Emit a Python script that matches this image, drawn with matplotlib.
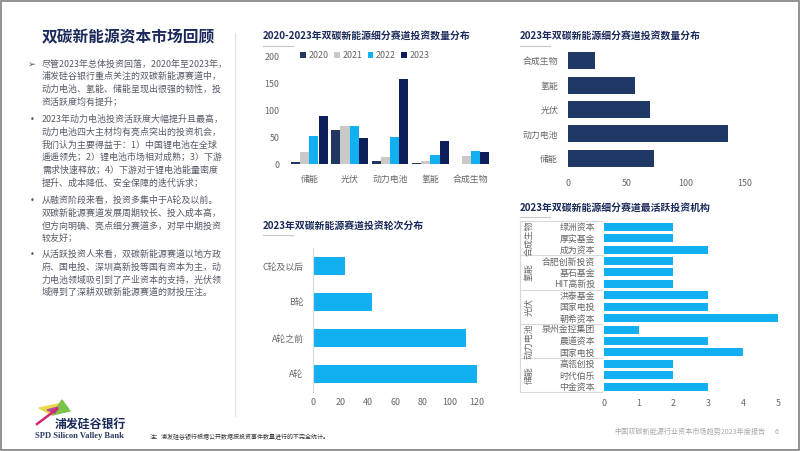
import matplotlib
matplotlib.use("Agg")
import matplotlib.pyplot as plt
import numpy as np
from matplotlib.lines import Line2D
from matplotlib.patches import Polygon, Rectangle
import matplotlib.transforms as mtransforms

plt.rcParams['font.family'] = ['Noto Sans CJK SC', 'DejaVu Sans']

# ---------------- data ----------------
sectors = ['储能', '光伏', '动力电池', '氢能', '合成生物']
years = ['2020', '2021', '2022', '2023']
counts_2020 = [4, 64, 6, 2, 0]
counts_2021 = [22, 71, 14, 7, 15]
counts_2022 = [53, 71, 51, 17, 25]
counts_2023 = [90, 48, 158, 43, 22]

sectors_2023 = ['储能', '动力电池', '光伏', '氢能', '合成生物']
values_2023 = [73, 136, 70, 57, 23]

rounds = ['A轮', 'A轮之前', 'B轮', 'C轮及以后']
round_counts = [120, 112, 43, 23]

inst_groups = ['合成生物', '氢能', '光伏', '动力电池', '储能']
group_sizes = [3, 3, 3, 3, 3]
inst_names = ['绿洲资本', '厚实基金', '成为资本', '合肥创新投资', '基石基金', 'HIT高新投',
              '洪泰基金', '国家电投', '朝希资本', '泉州金控集团', '晨道资本', '国家电投',
              '高瓴创投', '时代伯乐', '中金资本']
inst_counts = [2, 2, 3, 2, 2, 2, 3, 3, 5, 1, 3, 4, 2, 2, 3]

# ---------------- styling ----------------
W, H = 802, 451
NAVY = '#1b2a5a'
C2020 = '#22375f'
C2021 = '#c9c9c9'
C2022 = '#12b0f0'
C2023 = '#0d1f5a'
BAR_NAVY = '#1f3866'
CYAN = '#12b0f0'
TICK = '#666666'
BODY = '#555a66'

fig = plt.figure(figsize=(W / 100, H / 100), dpi=100)
fig.patch.set_facecolor('white')


def fx(x):
    return x / W


def fy(y):
    return 1 - y / H


def add_ax(x0, y0, x1, y1):
    return fig.add_axes([fx(x0), fy(y1), (x1 - x0) / W, (y1 - y0) / H])


def fig_line(x0, y0, x1, y1, color, lw):
    fig.add_artist(Line2D([fx(x0), fx(x1)], [fy(y0), fy(y1)], color=color, lw=lw,
                          transform=fig.transFigure))


def chart_title(x, y, s):
    fig.text(fx(x), fy(y), s, fontsize=7.1, fontweight='bold', color=NAVY,
             ha='left', va='center')
    fig_line(x, y + 9.5, x + 30, y + 9.5, '#c8c8c8', 0.8)


def clean(ax):
    for sp in ax.spines.values():
        sp.set_visible(False)
    ax.tick_params(length=0, labelsize=6.4, labelcolor=TICK)
    ax.set_facecolor('none')


# frame
fig.add_artist(Rectangle((fx(1), fy(449.5)), (798.5 - 1) / W, (449.5 - 1) / H,
                         fill=False, edgecolor='#8a8a8a', lw=1.3, transform=fig.transFigure))
# left panel separator
fig_line(235, 33, 235, 416, '#e3e3e3', 0.9)

# ---------------- left text ----------------
fig.text(fx(42), fy(37.5), '双碳新能源资本市场回顾', fontsize=11.3, fontweight='bold',
         color=NAVY, ha='left', va='center')

bullets = [
    ('➢', 64, ['尽管2023年总体投资回落，2020年至2023年，',
              '浦发硅谷银行重点关注的双碳新能源赛道中，',
              '动力电池、氢能、储能呈现出很强的韧性，投',
              '资活跃度均有提升；']),
    ('•', 119.5, ['2023年动力电池投资活跃度大幅提升且最高，',
                  '动力电池四大主材均有亮点突出的投资机会，',
                  '我们认为主要得益于：1）中国锂电池在全球',
                  '遥遥领先；2）锂电池市场相对成熟；3）下游',
                  '需求快速释放；4）下游对于锂电池能量密度',
                  '提升、成本降低、安全保障的迭代诉求；']),
    ('•', 200.5, ['从融资阶段来看，投资多集中于A轮及以前。',
                  '双碳新能源赛道发展周期较长、投入成本高，',
                  '但方向明确、亮点细分赛道多，对早中期投资',
                  '较友好；']),
    ('•', 254.5, ['从活跃投资人来看，双碳新能源赛道以地方政',
                  '府、国电投、深圳高新投等国有资本为主，动',
                  '力电池领域吸引到了产业资本的支持，光伏领',
                  '域得到了深耕双碳新能源赛道的财投压注。']),
]
for mark, y0, lines in bullets:
    fig.text(fx(32), fy(y0), mark, fontsize=6.8 if mark == '➢' else 6.0, color=BODY,
             ha='center', va='center', family=['DejaVu Sans'])
    for i, ln in enumerate(lines):
        fig.text(fx(42), fy(y0 + i * 12.7), ln, fontsize=6.45, color=BODY,
                 ha='left', va='center')

# logo (decorative)
fig.add_artist(Polygon([[fx(39), fy(408)], [fx(63), fy(403)], [fx(52), fy(415)]],
                       closed=True, color='#e9d84a', transform=fig.transFigure))
fig.add_artist(Polygon([[fx(52), fy(415)], [fx(62), fy(400)], [fx(70), fy(411)]],
                       closed=True, color='#7cc24a', transform=fig.transFigure))
fig.add_artist(Polygon([[fx(47), fy(410)], [fx(58), fy(407)], [fx(55), fy(413)]],
                       closed=True, color='#b04a9a', transform=fig.transFigure))
fig_line(37, 424, 57, 409, '#d6266d', 1.8)
fig.text(fx(55), fy(424.5), '浦发硅谷银行', fontsize=8.6, fontweight='bold', color=NAVY,
         ha='left', va='center')
fig.text(fx(35), fy(435.5), 'SPD Silicon Valley Bank', fontsize=6.1, fontweight='bold',
         color='#2a3a5e', ha='left', va='center', family=['Liberation Serif'])

fig.text(fx(150), fy(436.5), '注：浦发硅谷银行根据公开数据按投资事件数量进行的不完全统计。',
         fontsize=4.3, color='#333333', ha='left', va='center')
fig.text(fx(765), fy(432), '中国双碳新能源行业资本市场趋势2023年度报告', fontsize=5.1,
         color='#a8a8a8', ha='right', va='center')
fig.text(fx(777), fy(432), '6', fontsize=5.1, color='#a8a8a8', ha='center', va='center')

# ---------------- chart 1: grouped bars ----------------
chart_title(263, 36, '2020-2023年双碳新能源细分赛道投资数量分布')
ax1 = add_ax(289, 56.7, 491, 164.3)
clean(ax1)
x = np.arange(len(sectors))
bw = 0.228
series = [counts_2020, counts_2021, counts_2022, counts_2023]
cols = [C2020, C2021, C2022, C2023]
handles = []
for k, (vals, c, yr) in enumerate(zip(series, cols, years)):
    h = ax1.bar(x + (k - 1.5) * bw, vals, width=bw * 0.98, color=c, label=yr)
    handles.append(h)
ax1.set_xlim(-0.5, len(sectors) - 0.5)
ax1.set_ylim(0, 200)
ax1.set_yticks([0, 50, 100, 150, 200])
ax1.set_xticks(x)
ax1.set_xticklabels(sectors)
ax1.tick_params(axis='y', pad=7)
ax1.tick_params(axis='x', pad=7.5)
leg = ax1.legend(handles=handles, loc='center left', bbox_to_anchor=(fx(300), fy(56)),
                 bbox_transform=fig.transFigure, ncol=4, frameon=False, fontsize=6.4,
                 handlelength=0.65, handleheight=0.65, handletextpad=0.3,
                 columnspacing=0.6, borderpad=0, borderaxespad=0)
for t in leg.get_texts():
    t.set_color(TICK)

# ---------------- chart 2: 2023 horizontal ----------------
chart_title(520, 36, '2023年双碳新能源细分赛道投资数量分布')
ax2 = add_ax(567.7, 48.5, 744.7, 170.5)
clean(ax2)
y2 = np.arange(len(sectors_2023))
ax2.barh(y2, values_2023, height=0.7, color=BAR_NAVY)
ax2.set_xlim(0, 150)
ax2.set_ylim(-0.5, len(sectors_2023) - 0.5)
ax2.set_xticks([0, 50, 100, 150])
ax2.set_yticks(y2)
ax2.set_yticklabels(sectors_2023)
ax2.tick_params(axis='y', pad=7)
ax2.tick_params(axis='x', pad=6)

# ---------------- chart 3: rounds ----------------
chart_title(263, 225.7, '2023年双碳新能源赛道投资轮次分布')
ax3 = add_ax(313.3, 248, 477, 392)
clean(ax3)
ax3.spines['left'].set_visible(True)
ax3.spines['left'].set_color('#d9d9d9')
ax3.spines['left'].set_linewidth(0.8)
y3 = np.arange(len(rounds))
ax3.barh(y3, round_counts, height=0.48, color=CYAN)
ax3.set_xlim(0, 120)
ax3.set_ylim(-0.5, len(rounds) - 0.5)
ax3.set_xticks([0, 20, 40, 60, 80, 100, 120])
ax3.set_yticks(y3)
ax3.set_yticklabels(rounds)
ax3.tick_params(axis='y', pad=7)
ax3.tick_params(axis='x', pad=4.5)

# ---------------- chart 4: institutions ----------------
chart_title(520, 207.7, '2023年双碳新能源细分赛道最活跃投资机构')
ax4 = add_ax(603.7, 221, 777.7, 392.4)
clean(ax4)
y4 = np.arange(len(inst_names))
ax4.barh(y4, inst_counts, height=0.7, color=CYAN)
ax4.set_xlim(0, 5)
ax4.set_ylim(len(inst_names) - 0.5, -0.5)
ax4.set_xticks([0, 1, 2, 3, 4, 5])
ax4.set_yticks(y4)
ax4.set_yticklabels(inst_names)
ax4.tick_params(axis='y', pad=6.3)
ax4.tick_params(axis='x', pad=5)

trans = mtransforms.blended_transform_factory(ax4.transAxes, ax4.transData)
xl = (520 - 603.7) / 174.0
xr = (602 - 603.7) / 174.0
xg = (529 - 603.7) / 174.0
bounds = np.concatenate([[0], np.cumsum(group_sizes)]) - 0.5
for b in bounds:
    ax4.add_line(Line2D([xl, xr], [b, b], color='#d9d9d9', lw=0.8, transform=trans,
                        clip_on=False))
ax4.add_line(Line2D([xl, xl], [bounds[0], bounds[-1]], color='#d9d9d9', lw=0.8,
                    transform=trans, clip_on=False))
for g, lo, hi in zip(inst_groups, bounds[:-1], bounds[1:]):
    ax4.text(xg, (lo + hi) / 2, g, transform=trans, rotation=90, ha='center',
             va='center', fontsize=6.4, color=TICK)

fig.savefig('out.png', dpi=100, facecolor='white')
